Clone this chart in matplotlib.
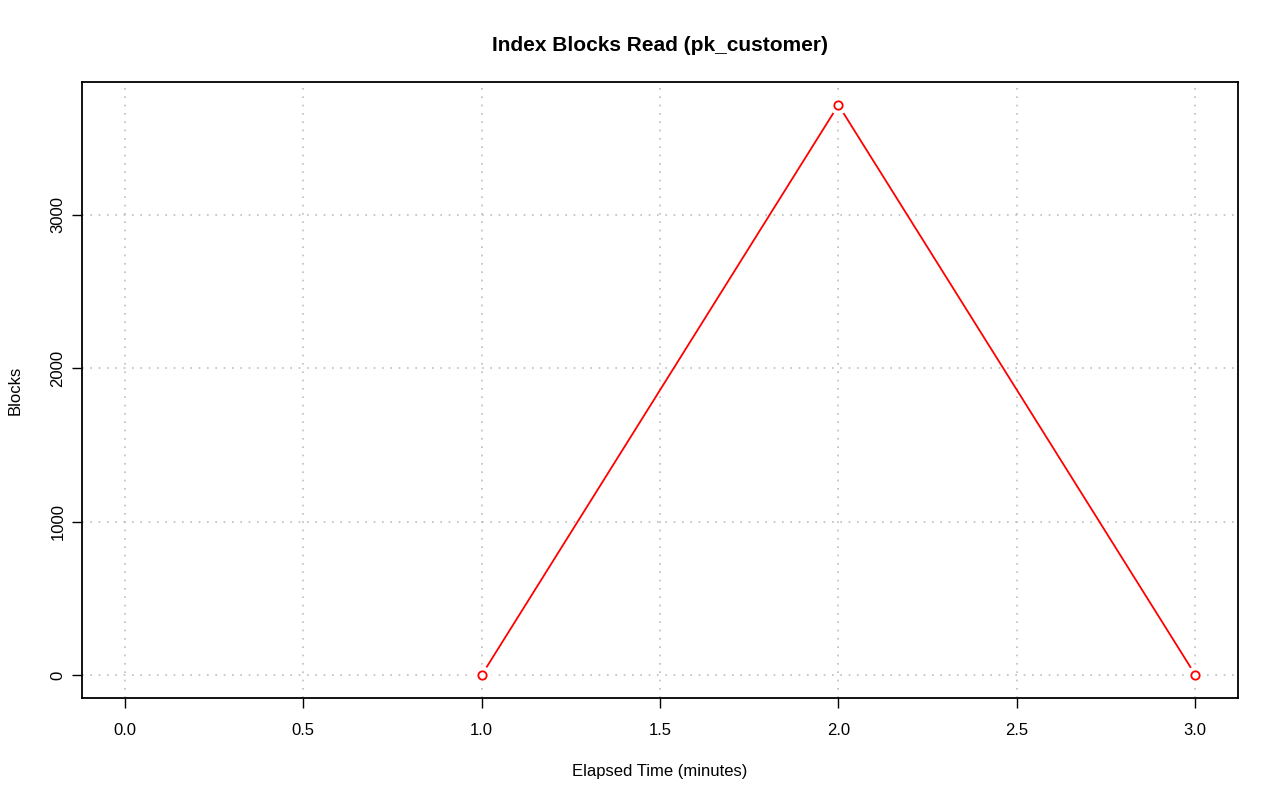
import matplotlib
matplotlib.use('Agg')
import matplotlib.pyplot as plt

# elapsed minutes and index blocks read
minutes = [1, 2, 3]
blocks = [0, 3715, 3]

plt.rcParams['font.family'] = ['Liberation Sans', 'DejaVu Sans']

fig = plt.figure(figsize=(12.8, 8.01), dpi=100)
ax = fig.add_axes([82 / 1280, 103 / 801, 1156 / 1280, 616 / 801])

# line with gaps around the points (R type="b" look)
ax.plot(minutes, blocks, color='red', linewidth=1.3, zorder=2)
ax.plot(minutes, blocks, linestyle='none', marker='o', markersize=12,
        markerfacecolor='white', markeredgecolor='white', zorder=3)
ax.plot(minutes, blocks, linestyle='none', marker='o', markersize=6,
        markerfacecolor='white', markeredgecolor='red', markeredgewidth=1.3, zorder=4)

ax.set_xlim(-0.12, 3.12)
ax.set_ylim(-149, 3865)
ax.set_xticks([0.0, 0.5, 1.0, 1.5, 2.0, 2.5, 3.0])
ax.set_xticklabels(['0.0', '0.5', '1.0', '1.5', '2.0', '2.5', '3.0'])
ax.set_yticks([0, 1000, 2000, 3000])
for lab in ax.get_yticklabels():
    lab.set_rotation(90)
    lab.set_va('center')

ax.grid(True, color='#bdbdbd', linestyle=(0, (1, 4)), linewidth=1.2)
ax.set_axisbelow(True)
for s in ax.spines.values():
    s.set_linewidth(1.3)
ax.tick_params(direction='out', length=7, width=1, labelsize=12)
ax.tick_params(axis='x', pad=11)
ax.tick_params(axis='y', pad=5)

ax.set_title('Index Blocks Read (pk_customer)', fontsize=15, fontweight='bold', pad=22)
ax.set_xlabel('Elapsed Time (minutes)', fontsize=12, labelpad=19)
ax.set_ylabel('Blocks', fontsize=12, labelpad=20)

fig.savefig('out.png', dpi=100)
